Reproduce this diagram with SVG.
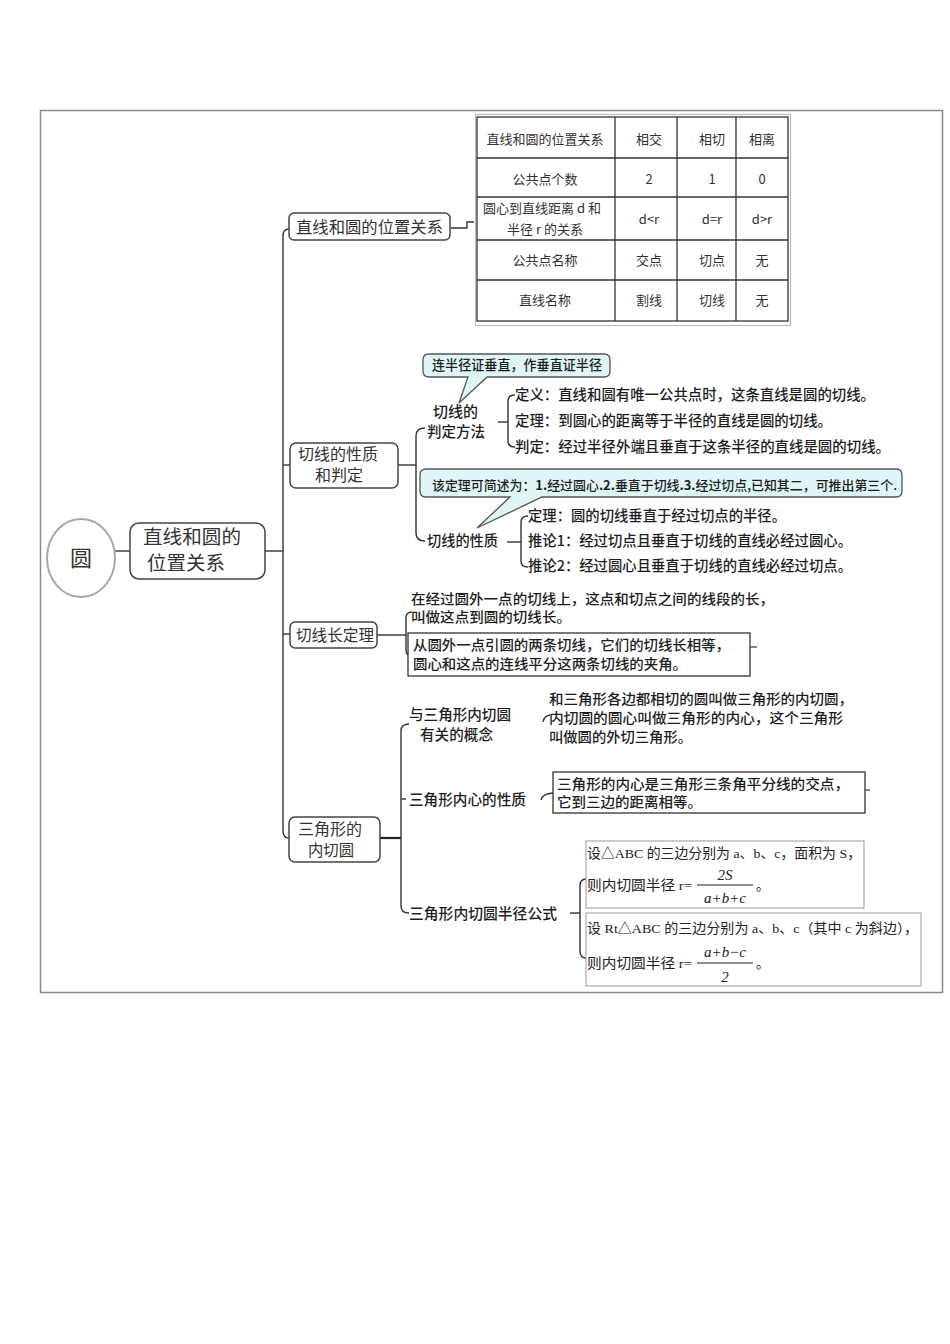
<svg xmlns="http://www.w3.org/2000/svg" width="950" height="1344" viewBox="0 0 950 1344">
<style>
.t{font-family:"Noto Sans CJK SC","Noto Sans",sans-serif;fill:#1e1e1e;font-weight:500}
.n{font-family:"Noto Sans CJK SC","Noto Sans",sans-serif;fill:#333}
.tb{font-family:"Noto Sans CJK SC","Noto Sans",sans-serif;fill:#333;font-size:13px;text-anchor:middle}
.s{font-family:"Liberation Serif","Noto Sans CJK SC",serif;fill:#222;font-size:13.5px}
.m{font-family:"Liberation Serif",serif;font-style:italic;fill:#222;font-size:15px;text-anchor:middle}
.box{fill:#fff;stroke:#444;stroke-width:1.5}
.call{fill:#e0f6f6;stroke:#555;stroke-width:1.3}
.ln{fill:none;stroke:#333;stroke-width:1.4}
.grid{stroke:#333;stroke-width:1.3;fill:none}
</style>
<rect x="0" y="0" width="950" height="1344" fill="#fff"/>
<rect x="40.5" y="110.5" width="902" height="882" fill="none" stroke="#8a8a8a" stroke-width="1.5"/>

<g id="connectors">
<line class="ln" x1="115" y1="551" x2="130" y2="551"/>
<line class="ln" x1="265" y1="551" x2="283" y2="551"/>
<path class="ln" d="M289 229 Q283 229 283 236 L283 831 Q283 838 289 838"/>
<path class="ln" d="M283 465 L290 465"/>
<path class="ln" d="M283 634 L290 634"/>
<path class="ln" d="M451 228 L467 228 L467 222 L474 222"/>
<path class="ln" d="M398 465 L416 465"/>
<path class="ln" d="M425 428 Q416 428 416 436 L416 533 Q416 541 425 541"/>
<path class="ln" d="M498 422 L508 422"/>
<path class="ln" d="M515 395 Q508 395 508 401 L508 441 Q508 447 515 447"/>
<path class="ln" d="M507 542 L521 542"/>
<path class="ln" d="M528 516 Q521 516 521 522 L521 561 Q521 567 528 567"/>
<path class="ln" d="M377 635 L406 635"/>
<path class="ln" d="M412 612 Q406 612 406 618 L406 650 Q406 656 412 656"/>
<line x1="750" y1="647" x2="757" y2="647" stroke="#333" stroke-width="1.2"/>
<path d="M380 838 L401 838" fill="none" stroke="#222" stroke-width="2.2"/>
<path class="ln" d="M409 724 Q401 724 401 731 L401 906 Q401 913 409 913"/>
<path class="ln" d="M401 799 L406 799"/>
<path class="ln" d="M543 722 Q544 716 550 715"/>
<path class="ln" d="M541 800 Q542 794 553 793"/>
<line x1="865" y1="790" x2="870" y2="790" stroke="#333" stroke-width="1.2"/>
<path class="ln" d="M570 913 L580 913"/>
<path class="ln" d="M586 879 Q580 879 580 886 L580 951 Q580 958 586 958"/>
</g>

<g id="root">
<ellipse cx="81" cy="558" rx="34" ry="39" fill="#fff" stroke="#a8a8a8" stroke-width="2"/>
<text class="n" x="81" y="566" font-size="22" text-anchor="middle" fill="#444">圆</text>
</g>

<g id="main-topic">
<rect class="box" x="130" y="523" width="135" height="56" rx="9"/>
<text class="n" x="143" y="544" font-size="19" textLength="98" lengthAdjust="spacingAndGlyphs">直线和圆的</text>
<text class="n" x="147" y="570" font-size="19" textLength="78" lengthAdjust="spacingAndGlyphs">位置关系</text>
</g>

<g id="branch-position">
<rect class="box" x="289" y="213" width="161" height="27" rx="5"/>
<text class="n" x="296" y="233" font-size="16.3" textLength="147" lengthAdjust="spacingAndGlyphs">直线和圆的位置关系</text>
</g>

<g id="table">
<rect x="475.5" y="114.5" width="315" height="211" fill="none" stroke="#bbb" stroke-width="1.2"/>
<rect class="grid" x="477" y="117" width="311" height="204"/>
<line class="grid" x1="477" y1="158" x2="788" y2="158"/>
<line class="grid" x1="477" y1="197" x2="788" y2="197"/>
<line class="grid" x1="477" y1="240" x2="788" y2="240"/>
<line class="grid" x1="477" y1="280" x2="788" y2="280"/>
<line class="grid" x1="615" y1="117" x2="615" y2="321"/>
<line class="grid" x1="677" y1="117" x2="677" y2="321"/>
<line class="grid" x1="736" y1="117" x2="736" y2="321"/>
<text class="tb" x="545" y="144">直线和圆的位置关系</text>
<text class="tb" x="649" y="144">相交</text>
<text class="tb" x="712" y="144">相切</text>
<text class="tb" x="762" y="144">相离</text>
<text class="tb" x="545" y="184">公共点个数</text>
<text class="tb" x="649" y="184">2</text>
<text class="tb" x="712" y="184">1</text>
<text class="tb" x="762" y="184">0</text>
<text class="tb" x="542" y="213" font-size="12.5">圆心到直线距离 d 和</text>
<text class="tb" x="545" y="234" font-size="12.5">半径 r 的关系</text>
<text class="tb" x="649" y="224">d&lt;r</text>
<text class="tb" x="712" y="224">d=r</text>
<text class="tb" x="762" y="224">d&gt;r</text>
<text class="tb" x="545" y="265">公共点名称</text>
<text class="tb" x="649" y="265">交点</text>
<text class="tb" x="712" y="265">切点</text>
<text class="tb" x="762" y="265">无</text>
<text class="tb" x="545" y="305">直线名称</text>
<text class="tb" x="649" y="305">割线</text>
<text class="tb" x="712" y="305">切线</text>
<text class="tb" x="762" y="305">无</text>
</g>

<g id="branch-tangent">
<rect class="box" x="290" y="443" width="108" height="45" rx="6"/>
<text class="n" x="298" y="460" font-size="15.5" textLength="80" lengthAdjust="spacingAndGlyphs">切线的性质</text>
<text class="n" x="315" y="481" font-size="15.5" textLength="48" lengthAdjust="spacingAndGlyphs">和判定</text>
</g>

<g id="callout-judge">
<path class="call" d="M429 354 L604 354 Q610 354 610 360 L610 371 Q610 377 604 377 L487 377 L459 403 L468 377 L429 377 Q423 377 423 371 L423 360 Q423 354 429 354 Z"/>
<text class="t" x="432" y="370" font-size="13.2" textLength="170" lengthAdjust="spacingAndGlyphs">连半径证垂直，作垂直证半径</text>
</g>

<g id="judge">
<text class="t" x="433" y="417" font-size="14.5" textLength="45" lengthAdjust="spacingAndGlyphs">切线的</text>
<text class="t" x="427" y="437" font-size="14.5" textLength="58" lengthAdjust="spacingAndGlyphs">判定方法</text>
<text class="t" x="515" y="400" font-size="14.4" textLength="360" lengthAdjust="spacingAndGlyphs">定义：直线和圆有唯一公共点时，这条直线是圆的切线。</text>
<text class="t" x="515" y="426" font-size="14.4" textLength="317" lengthAdjust="spacingAndGlyphs">定理：到圆心的距离等于半径的直线是圆的切线。</text>
<text class="t" x="515" y="452" font-size="14.4" textLength="375" lengthAdjust="spacingAndGlyphs">判定：经过半径外端且垂直于这条半径的直线是圆的切线。</text>
</g>

<g id="callout-property">
<path class="call" d="M426 469 L896 469 Q902 469 902 475 L902 491 Q902 497 896 497 L542 497 L477 528 L510 497 L426 497 Q420 497 420 491 L420 475 Q420 469 426 469 Z"/>
<text class="t" x="432" y="490" font-size="13" textLength="465" lengthAdjust="spacingAndGlyphs">该定理可简述为：<tspan font-weight="bold">1.</tspan>经过圆心<tspan font-weight="bold">.2.</tspan>垂直于切线<tspan font-weight="bold">.3.</tspan>经过切点,已知其二，可推出第三个.</text>
</g>

<g id="property">
<text class="t" x="427" y="546" font-size="14.4" textLength="71" lengthAdjust="spacingAndGlyphs">切线的性质</text>
<text class="t" x="528" y="521" font-size="14.4" textLength="258" lengthAdjust="spacingAndGlyphs">定理：圆的切线垂直于经过切点的半径。</text>
<text class="t" x="528" y="546" font-size="14.4" textLength="324" lengthAdjust="spacingAndGlyphs">推论1：经过切点且垂直于切线的直线必经过圆心。</text>
<text class="t" x="528" y="571" font-size="14.4" textLength="324" lengthAdjust="spacingAndGlyphs">推论2：经过圆心且垂直于切线的直线必经过切点。</text>
</g>

<g id="branch-length">
<rect class="box" x="290" y="622" width="87" height="26" rx="5"/>
<text class="n" x="296" y="641" font-size="16" textLength="78" lengthAdjust="spacingAndGlyphs">切线长定理</text>
</g>

<g id="length-text">
<text class="t" x="411" y="604" font-size="14" textLength="363" lengthAdjust="spacingAndGlyphs">在经过圆外一点的切线上，这点和切点之间的线段的长，</text>
<text class="t" x="411" y="622" font-size="14" textLength="160" lengthAdjust="spacingAndGlyphs">叫做这点到圆的切线长。</text>
<rect x="408" y="633" width="342" height="43" fill="#fff" stroke="#333" stroke-width="1.3"/>
<text class="t" x="413" y="650" font-size="14" textLength="317" lengthAdjust="spacingAndGlyphs">从圆外一点引圆的两条切线，它们的切线长相等，</text>
<text class="t" x="413" y="669" font-size="14" textLength="274" lengthAdjust="spacingAndGlyphs">圆心和这点的连线平分这两条切线的夹角。</text>
</g>

<g id="branch-incircle">
<rect class="box" x="289" y="817" width="91" height="45" rx="6"/>
<text class="n" x="298" y="835" font-size="15.5" textLength="64" lengthAdjust="spacingAndGlyphs">三角形的</text>
<text class="n" x="308" y="856" font-size="15.5" textLength="46" lengthAdjust="spacingAndGlyphs">内切圆</text>
</g>

<g id="concept">
<text class="t" x="409" y="720" font-size="14.4" textLength="102" lengthAdjust="spacingAndGlyphs">与三角形内切圆</text>
<text class="t" x="420" y="740" font-size="14.4" textLength="73" lengthAdjust="spacingAndGlyphs">有关的概念</text>
<text class="t" x="549" y="704" font-size="14" textLength="304" lengthAdjust="spacingAndGlyphs">和三角形各边都相切的圆叫做三角形的内切圆，</text>
<text class="t" x="549" y="723" font-size="14" textLength="294" lengthAdjust="spacingAndGlyphs">内切圆的圆心叫做三角形的内心，这个三角形</text>
<text class="t" x="549" y="742" font-size="14" textLength="143" lengthAdjust="spacingAndGlyphs">叫做圆的外切三角形。</text>
</g>

<g id="incenter">
<text class="t" x="409" y="805" font-size="14.6" textLength="117" lengthAdjust="spacingAndGlyphs">三角形内心的性质</text>
<rect x="553" y="772" width="312" height="41" fill="#fff" stroke="#333" stroke-width="1.3"/>
<text class="t" x="557" y="789" font-size="14" textLength="292" lengthAdjust="spacingAndGlyphs">三角形的内心是三角形三条角平分线的交点，</text>
<text class="t" x="557" y="807" font-size="14" textLength="145" lengthAdjust="spacingAndGlyphs">它到三边的距离相等。</text>
</g>

<g id="radius">
<text class="t" x="409" y="919" font-size="14.8" textLength="148" lengthAdjust="spacingAndGlyphs">三角形内切圆半径公式</text>
<rect x="586" y="841" width="278" height="67" fill="#fff" stroke="#aaa" stroke-width="1.2"/>
<text class="s" x="587" y="858" textLength="274" lengthAdjust="spacingAndGlyphs">设△ABC 的三边分别为 a、b、c，面积为 S，</text>
<text class="s" x="587" y="890" textLength="105" lengthAdjust="spacingAndGlyphs">则内切圆半径 r=</text>
<text class="m" x="725" y="880">2S</text>
<line x1="697" y1="885" x2="753" y2="885" stroke="#222" stroke-width="1"/>
<text class="m" x="725" y="903">a+b+c</text>
<text class="s" x="756" y="890">。</text>
<rect x="586" y="913" width="335" height="73" fill="#fff" stroke="#aaa" stroke-width="1.2"/>
<text class="s" x="587" y="933" textLength="331" lengthAdjust="spacingAndGlyphs">设 Rt△ABC 的三边分别为 a、b、c（其中 c 为斜边），</text>
<text class="s" x="587" y="968" textLength="105" lengthAdjust="spacingAndGlyphs">则内切圆半径 r=</text>
<text class="m" x="725" y="957">a+b−c</text>
<line x1="697" y1="963" x2="753" y2="963" stroke="#222" stroke-width="1"/>
<text class="m" x="725" y="982">2</text>
<text class="s" x="756" y="968">。</text>
</g>
</svg>
